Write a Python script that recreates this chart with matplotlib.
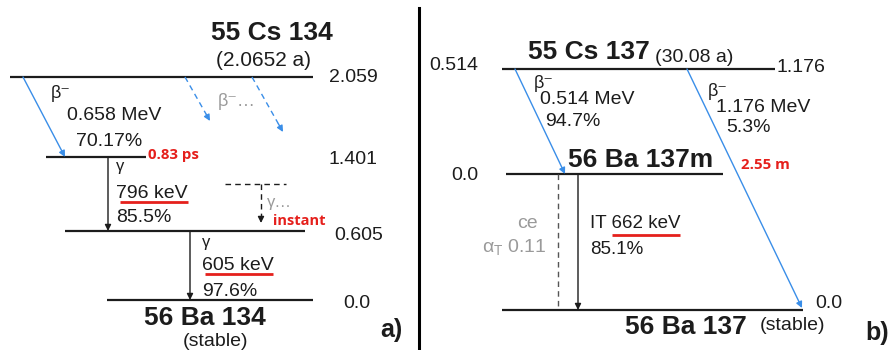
#!/usr/bin/env python3
# -*- coding: utf-8 -*-

"""
Decay schemes of Cs-134 (a) and Cs-137 (b).
"""

### Import Space ###

import matplotlib.pyplot as plt

### Global Var/stat ###

# --- data ---
cs134_levels = ["2.059", "1.401", "0.605", "0.0"]          # MeV
cs134_beta = ["0.658 MeV", "70.17%"]
cs134_gamma_energy = ["796 keV", "605 keV"]
cs134_gamma_int = ["85.5%", "97.6%"]
cs134_halflife = "(2.0652 a)"
cs134_lifetimes = ["0.83 ps", "instant"]

cs137_levels_parent = ["0.514", "1.176"]                   # MeV (beta endpoints)
cs137_levels = ["0.0", "0.0"]                              # Ba137m, Ba137
cs137_beta_energy = ["0.514 MeV", "1.176 MeV"]
cs137_beta_int = ["94.7%", "5.3%"]
cs137_halflife = "(30.08 a)"
cs137_it = ["IT 662 keV", "85.1%"]
cs137_ce = ["ce", r"$\mathregular{α_T}$ 0.11"]
ba137m_halflife = "2.55 m"

# --- layout (pixel space) ---
FONT = ['Liberation Sans', 'DejaVu Sans']
RED_FONT = ['Open Sans', 'DejaVu Sans']
BLACK = "#1c1c1c"
GREY = "#9a9a9a"
BLUE = "#3a8ee8"
RED = "#e5201c"
RED_SIZE = 10.8

lvl134_y = [77, 157, 231, 300]
lvl134_x = [(10, 313), (46, 146), (65, 305), (107, 313)]
lvl134_lab = [(353, 78), (353, 160), (359, 236), (357, 303)]

lvl137_y = [69, 174, 310]
lvl137_x = [(502, 775), (506, 723), (502, 803)]

### Function/Class Space ###

def txt(ax, x, y, s, size=14, color=BLACK, weight='normal', ha='left', family=FONT):
    ax.text(x, y, s, fontsize=size, color=color, fontweight=weight,
            ha=ha, va='center', family=family)


def arrow(ax, p0, p1, color=BLACK, lw=1.0, dashed=False):
    if dashed:
        # dashed shaft + solid head
        fx = p0[0] + (p1[0] - p0[0]) * 0.85
        fy = p0[1] + (p1[1] - p0[1]) * 0.85
        ax.plot([p0[0], fx], [p0[1], fy], color=color, lw=lw, ls=(0, (4, 3)))
        p0 = (fx, fy)
    ax.annotate("", xy=p1, xytext=p0,
                arrowprops=dict(arrowstyle='-|>', color=color, lw=lw,
                                mutation_scale=9, shrinkA=0, shrinkB=0))


def underline(ax, x0, x1, y):
    ax.plot([x0, x1], [y, y], color=RED, lw=2.0, solid_capstyle='butt')

### Running Script Space ###

if __name__ == '__main__':
    fig = plt.figure(figsize=(8.91, 3.5), dpi=100)
    ax = fig.add_axes([0, 0, 1, 1])
    ax.set_xlim(0, 891)
    ax.set_ylim(350, 0)
    ax.axis('off')

    # ---------------- a) Cs 134 ----------------
    for (x0, x1), y, lab, (lx, ly) in zip(lvl134_x, lvl134_y, cs134_levels, lvl134_lab):
        ax.plot([x0, x1], [y, y], color=BLACK, lw=1.6, solid_capstyle='butt')
        txt(ax, lx, ly, lab, ha='center')

    txt(ax, 272, 33, "55 Cs 134", size=19, weight='bold', ha='center')
    txt(ax, 264, 60, cs134_halflife, size=15, ha='center')

    arrow(ax, (23, 77), (65, 157), color=BLUE, lw=1.0)
    txt(ax, 51, 93, "β⁻", size=13)
    txt(ax, 114, 116, cs134_beta[0], ha='center')
    txt(ax, 109, 142, cs134_beta[1], ha='center')
    txt(ax, 148, 155, cs134_lifetimes[0], size=RED_SIZE, color=RED, weight='bold', family=RED_FONT)

    arrow(ax, (185, 77), (210, 121), color=BLUE, lw=1.0, dashed=True)
    arrow(ax, (252, 77), (283, 132), color=BLUE, lw=1.0, dashed=True)
    txt(ax, 218, 102, "β⁻…", size=13, color=GREY)

    arrow(ax, (108, 157), (108, 231))
    txt(ax, 116, 166, "γ", size=12)
    txt(ax, 116, 193, cs134_gamma_energy[0])
    underline(ax, 120, 188, 202)
    txt(ax, 116, 218, cs134_gamma_int[0])

    ax.plot([225, 286], [184, 184], color=BLACK, lw=1.0, ls=(0, (4, 3)))
    arrow(ax, (261, 184), (261, 223), color=BLACK, lw=1.0, dashed=True)
    txt(ax, 267, 203, "γ…", size=12, color=GREY)
    txt(ax, 273, 221, cs134_lifetimes[1], size=RED_SIZE - 0.3, color=RED, weight='bold', family=RED_FONT)

    arrow(ax, (190, 231), (190, 300))
    txt(ax, 202, 243, "γ", size=12)
    txt(ax, 202, 265, cs134_gamma_energy[1])
    underline(ax, 205, 273, 274)
    txt(ax, 202, 292, cs134_gamma_int[1])

    txt(ax, 205, 318, "56 Ba 134", size=19, weight='bold', ha='center')
    txt(ax, 216, 342, "(stable)", size=14, ha='center')
    txt(ax, 380, 330, "a)", size=18, weight='bold')

    # divider
    ax.plot([419, 419], [8, 350], color="black", lw=2.2)

    # ---------------- b) Cs 137 ----------------
    for (x0, x1), y in zip(lvl137_x, lvl137_y):
        ax.plot([x0, x1], [y, y], color=BLACK, lw=1.6, solid_capstyle='butt')

    txt(ax, 528, 52, "55 Cs 137", size=19, weight='bold')
    txt(ax, 655, 57, cs137_halflife, size=14)
    txt(ax, 454, 65, cs137_levels_parent[0], ha='center')
    txt(ax, 777, 68, cs137_levels_parent[1])

    arrow(ax, (515, 69), (565, 174), color=BLUE, lw=1.0)
    txt(ax, 534, 84, "β⁻", size=13)
    txt(ax, 540, 100, cs137_beta_energy[0])
    txt(ax, 545, 121, cs137_beta_int[0])

    arrow(ax, (687, 69), (802, 308), color=BLUE, lw=1.0)
    txt(ax, 708, 91, "β⁻", size=13)
    txt(ax, 716, 108, cs137_beta_energy[1])
    txt(ax, 726, 127, cs137_beta_int[1])
    txt(ax, 741, 165, ba137m_halflife, size=RED_SIZE, color=RED, weight='bold', family=RED_FONT)

    txt(ax, 568, 160, "56 Ba 137m", size=19, weight='bold')
    txt(ax, 465, 175, cs137_levels[0], ha='center')

    ax.plot([558, 558], [174, 310], color="#555555", lw=1.0, ls=(0, (4, 3)))
    txt(ax, 527, 223, cs137_ce[0], color=GREY, ha='center')
    txt(ax, 514, 247, cs137_ce[1], color=GREY, ha='center')

    arrow(ax, (578, 174), (578, 310))
    txt(ax, 590, 223, cs137_it[0], size=13.5)
    underline(ax, 612, 680, 235)
    txt(ax, 590, 250, cs137_it[1], size=13.5)

    txt(ax, 815, 303, cs137_levels[1])
    txt(ax, 625, 327, "56 Ba 137", size=19, weight='bold')
    txt(ax, 760, 325, "(stable)", size=14)
    txt(ax, 865, 333, "b)", size=18, weight='bold')

    fig.savefig("out.png", dpi=100)
